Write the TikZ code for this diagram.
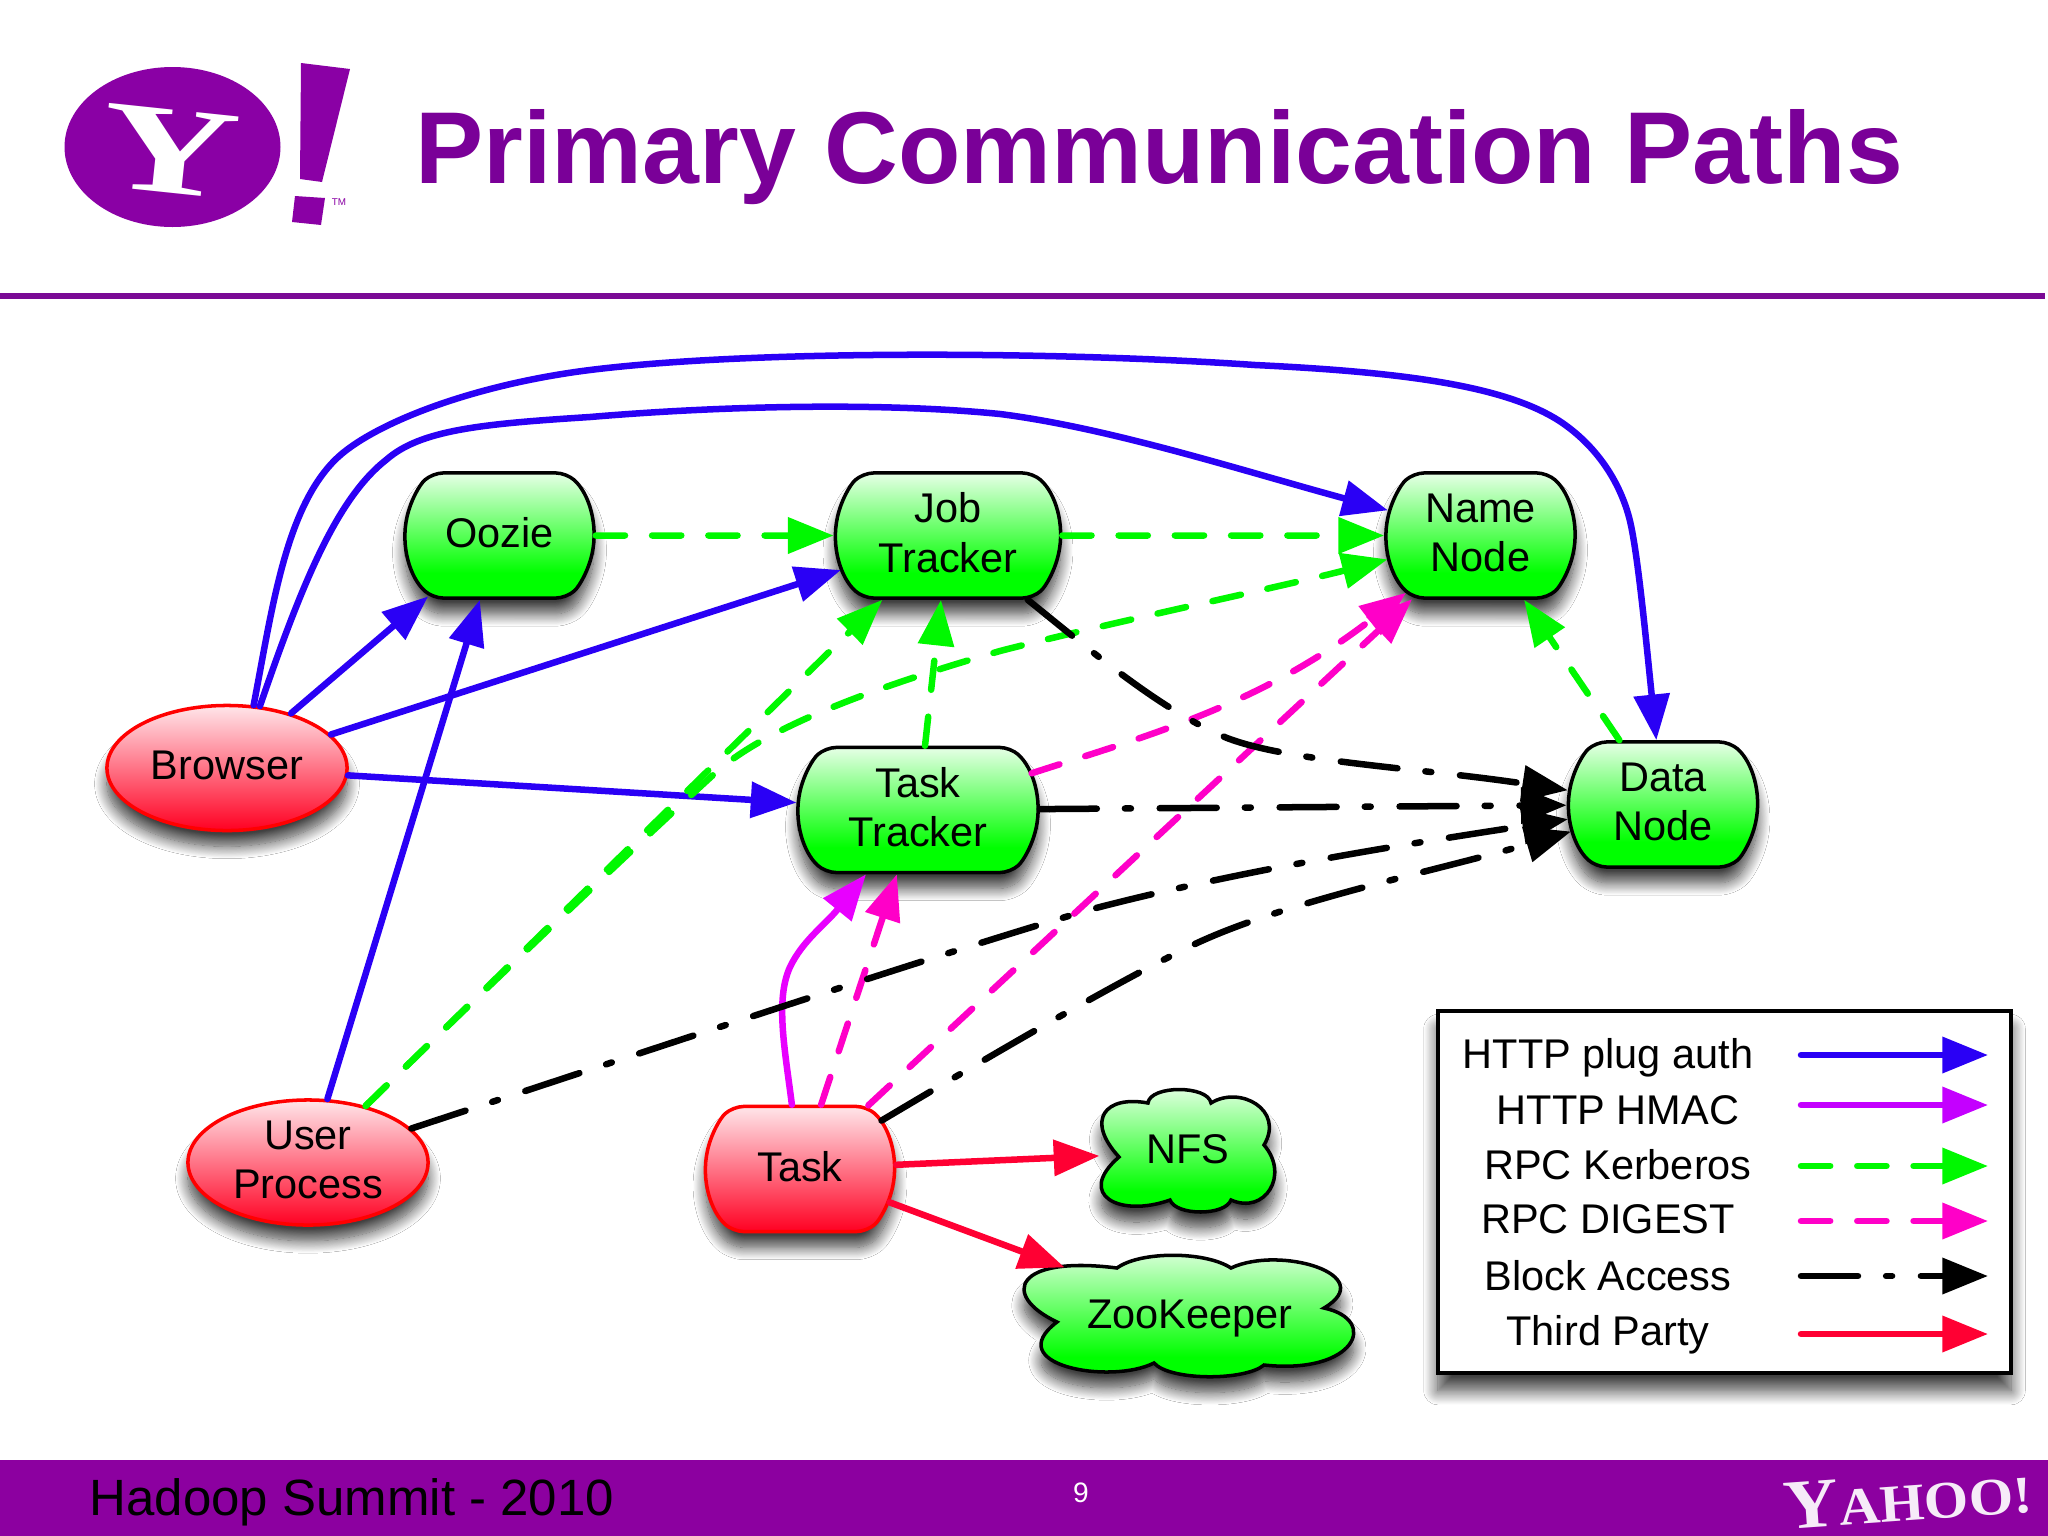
\documentclass[tikz,border=0pt]{standalone}
\usepackage{fontspec}
\setmainfont{Liberation Sans}
\newfontfamily\serifb{Liberation Serif}
\usetikzlibrary{arrows.meta,shapes.geometric,shapes.misc,shadows.blur}

\definecolor{yviolet}{HTML}{8A00A5}
\definecolor{ytitle}{HTML}{7A0098}
\definecolor{yrule}{HTML}{7A0A95}
\definecolor{yband}{HTML}{8C00A0}
\definecolor{cblue}{HTML}{2A00F5}
\definecolor{chmac}{HTML}{E800FF}
\definecolor{chmacleg}{HTML}{C400FF}
\definecolor{cgreen}{HTML}{00F800}
\definecolor{cpink}{HTML}{FF00C8}
\definecolor{cred}{HTML}{FF0033}
\definecolor{gvgreen}{HTML}{00FF00}
\definecolor{gvgreentop}{HTML}{E6FFE6}
\definecolor{gvred}{HTML}{FF0022}
\definecolor{gvredtop}{HTML}{FFE6EA}

\pgfdeclareverticalshading{shgreen}{100bp}{color(0bp)=(gvgreen); color(35bp)=(gvgreen); color(75bp)=(gvgreentop); color(100bp)=(gvgreentop)}
\pgfdeclareverticalshading{shred}{100bp}{color(0bp)=(gvred); color(25bp)=(gvred); color(75bp)=(gvredtop); color(100bp)=(gvredtop)}

\tikzset{
  label/.style={font=\fontsize{11.8pt}{14pt}\selectfont,align=center,inner sep=0pt,text=black},
  gvshadow/.style={blur shadow={shadow xshift=0pt,shadow yshift=-4.5pt,shadow blur radius=3.5pt,shadow blur steps=16,shadow opacity=75}},
  box/.style={rounded rectangle,rounded rectangle arc length=95,rounded corners=3pt,line width=1pt,
    minimum height=1.25cm,inner sep=0pt,gvshadow,label,text depth=1.7pt},
  gbox/.style={box,draw=black,shade,shading=shgreen},
  rbox/.style={box,draw=red,shade,shading=shred},
  proc/.style={ellipse,draw=red,line width=1pt,shade,shading=shred,gvshadow,label,text depth=1.7pt,
    minimum width=2.4cm,minimum height=1.25cm,inner sep=0pt},
  puffs/.style={draw=black,line width=1pt,shade,shading=shgreen,gvshadow},
  cloudtext/.style={ellipse,label,minimum height=1.2cm},
  edge/.style={line width=1.85pt,line cap=round,-{Triangle[length=13pt,width=10pt]}},
  http/.style={edge,cblue},
  hmac/.style={edge,chmac},
  krb/.style={edge,cgreen,dash pattern=on 8.3pt off 7.7pt},
  digest/.style={edge,cpink,dash pattern=on 8.3pt off 7.7pt},
  block/.style={edge,black,dash pattern=on 16.2pt off 8pt on 1.7pt off 8.2pt},
  third/.style={edge,cred},
}

\begin{document}
\begin{tikzpicture}[x=0.01cm,y=-0.01cm]
  \useasboundingbox (0,0) rectangle (2048,1536);
  \fill[white] (0,0) rectangle (2048,1536);

  % header
  \fill[yviolet] (172.5,147) ellipse (108 and 80);
  \node[white,inner sep=0pt,rotate=-6,font=\serifb\bfseries\fontsize{36pt}{36pt}\selectfont] (logoy) at (170,151) {\scalebox{1.5}[1]{Y}};
  \fill[yviolet] (301,63) -- (350,69) -- (322,182) -- (300,179) -- cycle;
  \fill[yviolet] (295,196) -- (325,198) -- (321,225) -- (292,222) -- cycle;
  \node[yviolet,inner sep=0pt,font=\fontsize{2.8pt}{3pt}\selectfont] (logotm) at (339,202) {TM};
  \node[ytitle,anchor=base west,inner sep=0pt,font=\bfseries\fontsize{29.05pt}{30pt}\selectfont] (title) at (415,183) {Primary Communication Paths};
  \fill[yrule] (0,292.5) rectangle (2045,298.5);

  % footer
  \fill[yband] (0,1460) rectangle (2048,1536);
  \node[black,anchor=base west,inner sep=0pt,font=\fontsize{14.5pt}{15pt}\selectfont] (foot) at (89,1515) {Hadoop Summit - 2010};
  \node[white,inner sep=0pt,font=\fontsize{8pt}{9pt}\selectfont] (page) at (1081,1493) {9};
  \node[white!92!yviolet,inner sep=0pt,rotate=4,font=\serifb\bfseries] (yahoo) at (1908,1498)
    {\scalebox{1.08}[1]{\fontsize{20pt}{20pt}\selectfont Y\fontsize{15pt}{15pt}\selectfont AHOO!}};

  % legend
  \node[draw=black,line width=1pt,fill=white,minimum width=5.73cm,minimum height=3.62cm,inner sep=0pt,
    blur shadow={shadow xshift=0pt,shadow yshift=-5pt,shadow blur radius=4pt,shadow blur steps=16,shadow opacity=75}] (legend) at (1724.5,1192) {};
  \node[label] (t1) at (1608,1058) {HTTP plug auth};
  \node[label] (t2) at (1618,1110) {HTTP HMAC};
  \node[label] (t3) at (1618,1165) {RPC Kerberos};
  \node[label] (t4) at (1608,1219) {RPC DIGEST};
  \node[label] (t5) at (1608,1276) {Block Access};
  \node[label] (t6) at (1608,1335) {Third Party};
  \coordinate (a1) at (1801,1055); \coordinate (b1) at (1988,1055);
  \coordinate (a2) at (1801,1105); \coordinate (b2) at (1988,1105);
  \coordinate (a3) at (1801,1166); \coordinate (b3) at (1988,1166);
  \coordinate (a4) at (1801,1221); \coordinate (b4) at (1988,1221);
  \coordinate (a5) at (1801,1276); \coordinate (b5) at (1988,1276);
  \coordinate (a6) at (1801,1334); \coordinate (b6) at (1988,1334);
  \draw[http] (a1) -- (b1);
  \draw[hmac,chmacleg] (a2) -- (b2);
  \draw[krb] (a3) -- (b3);
  \draw[digest] (a4) -- (b4);
  \draw[block] (a5) -- (b5);
  \draw[third] (a6) -- (b6);

  % nodes
  \node[gbox,minimum width=1.89cm] (oozie) at (499.5,535.5) {Oozie};
  \node[gbox,minimum width=2.25cm] (job) at (948,535.5) {Job\\Tracker};
  \node[gbox,minimum width=1.89cm] (name) at (1480.5,535.5) {Name\\Node};
  \node[gbox,minimum width=2.4cm] (tt) at (918,810) {Task\\Tracker};
  \node[gbox,minimum width=1.89cm] (data) at (1663,804.5) {Data\\Node};
  \node[proc] (browser) at (227,768) {Browser};
  \node[proc] (user) at (308,1162.5) {User\\Process};
  \node[rbox,minimum width=1.89cm] (task) at (800,1169) {Task};

  % clouds
  \path[puffs] (1119,1157) .. controls (1085,1120) and (1105,1095) .. (1148,1103)
    .. controls (1150,1085) and (1208,1085) .. (1211,1103)
    .. controls (1240,1085) and (1285,1110) .. (1264,1145)
    .. controls (1290,1175) and (1265,1215) .. (1231,1200)
    .. controls (1225,1216) and (1176,1216) .. (1170,1200)
    .. controls (1120,1218) and (1075,1195) .. (1119,1157) -- cycle;
  \node[cloudtext,text depth=1.7pt,minimum width=1.76cm] (nfs) at (1188,1152) {NFS};
  \path[puffs] (1057,1322) .. controls (1000,1295) and (1015,1255) .. (1117,1268)
    .. controls (1140,1251) and (1205,1251) .. (1231,1268)
    .. controls (1280,1245) and (1380,1275) .. (1324,1308)
    .. controls (1380,1320) and (1355,1375) .. (1264,1365)
    .. controls (1245,1381) and (1170,1381) .. (1154,1363)
    .. controls (1110,1385) and (1000,1365) .. (1057,1322) -- cycle;
  \node[cloudtext,text depth=0pt,minimum width=3.9cm] (zk) at (1190,1314) {ZooKeeper};

  % HTTP plug auth
  \draw[http] (browser.67) .. controls (272,610) and (285,510) .. (335,460)
    .. controls (370,425) and (470,385) .. (590,370)
    .. controls (750,350) and (1050,351) .. (1255,365)
    .. controls (1400,372) and (1505,385) .. (1561,422)
    .. controls (1595,445) and (1620,480) .. (1630,521)
    .. controls (1638,555) and (1646,640) .. (data);
  \draw[http] (browser.62) .. controls (300,590) and (335,500) .. (386,460)
    .. controls (420,430) and (480,424) .. (590,417)
    .. controls (720,406) and (880,402) .. (1000,414)
    .. controls (1110,428) and (1240,470) .. (name);
  \draw[http] (browser) -- (oozie);
  \draw[http] (browser) -- (job);
  \draw[http] (browser) -- (tt);
  \draw[http] (user) -- (oozie);

  % RPC Kerberos
  \draw[krb] (oozie) -- (job);
  \draw[krb] (job) -- (name);
  \draw[krb] (user) -- (job);
  \draw[krb] (user) .. controls (450,1023) and (620,860) .. (713,775)
    .. controls (770,722) and (900,680) .. (1000,651)
    .. controls (1100,625) and (1280,587) .. (name);
  \draw[krb] (tt) -- (job);
  \draw[krb] (data) -- (name);

  % RPC DIGEST
  \draw[digest] (tt) .. controls (1150,735) and (1260,705) .. (name);
  \draw[digest] (task) -- (name);
  \draw[digest] (task) -- (tt);

  % HTTP HMAC
  \draw[hmac] (task) .. controls (785,1050) and (775,1000) .. (790,967)
    .. controls (803,940) and (825,925) .. (tt);

  % Block Access
  \draw[block] (job) .. controls (1090,650) and (1160,710) .. (1227,738)
    .. controls (1290,762) and (1420,768) .. (data);
  \draw[block] (tt) -- (data);
  \draw[block] (user) .. controls (650,1050) and (950,950) .. (1096,908)
    .. controls (1250,868) and (1420,842) .. (data);
  \draw[block] (task) .. controls (970,1068) and (1110,985) .. (1197,943)
    .. controls (1290,900) and (1440,870) .. (data);

  % Third Party
  \draw[third] (task) -- (nfs);
  \draw[third] (task) -- (zk);
\end{tikzpicture}
\end{document}
